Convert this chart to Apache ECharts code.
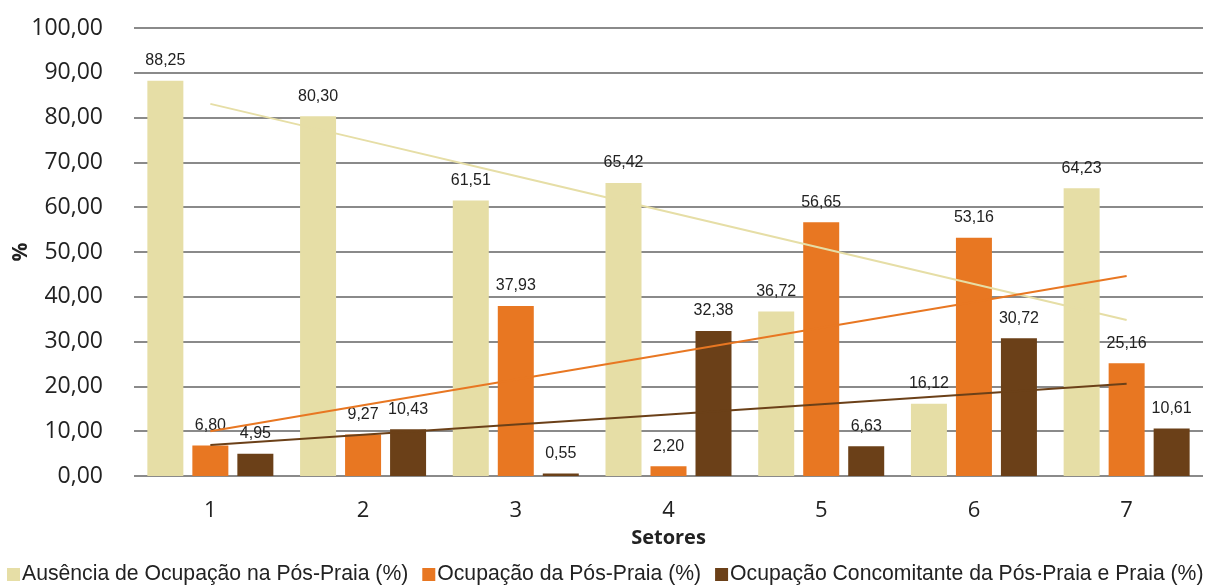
<!DOCTYPE html>
<html>
<head>
<meta charset="utf-8">
<script src="https://cdn.jsdelivr.net/npm/echarts@6/dist/echarts.min.js"></script>
<style>
  html, body { margin: 0; padding: 0; background: #fff; }
  #chart { width: 1217px; height: 586px; }
</style>
</head>
<body>
<div id="chart"></div>
<script>
// dados
const setores = ['1', '2', '3', '4', '5', '6', '7'];
const ausencia = [88.25, 80.30, 61.51, 65.42, 36.72, 16.12, 64.23];
const ocupacao = [6.80, 9.27, 37.93, 2.20, 56.65, 53.16, 25.16];
const concomitante = [4.95, 10.43, 0.55, 32.38, 6.63, 30.72, 10.61];
const nomes = [
  'Ausência de Ocupação na Pós-Praia (%)',
  'Ocupação da Pós-Praia (%)',
  'Ocupação Concomitante da Pós-Praia e Praia (%)'
];
const cores = ['#e6dea6', '#e87722', '#6b4018'];

// linha de tendência linear (mínimos quadrados), como no Excel
function tendencia(vals) {
  const n = vals.length;
  const xs = vals.map((v, i) => i + 1);
  const mx = xs.reduce((a, b) => a + b, 0) / n;
  const my = vals.reduce((a, b) => a + b, 0) / n;
  let num = 0, den = 0;
  for (let i = 0; i < n; i++) {
    num += (xs[i] - mx) * (vals[i] - my);
    den += (xs[i] - mx) * (xs[i] - mx);
  }
  const b = num / den;
  return xs.map(x => my + b * (x - mx));
}

const fmt = v => v.toFixed(2).replace('.', ',');

const chart = echarts.init(document.getElementById('chart'));

function barSerie(nome, dados, cor) {
  return {
    name: nome,
    type: 'bar',
    data: dados,
    barWidth: 36,
    barGap: '25%',
    itemStyle: { color: cor },
    label: {
      show: true,
      position: 'top',
      distance: 12,
      color: '#222',
      fontFamily: 'Liberation Sans',
      fontSize: 16,
      formatter: p => fmt(p.value)
    },
    z: 2
  };
}

function linhaTendencia(dados, cor) {
  return {
    type: 'line',
    data: tendencia(dados),
    showSymbol: false,
    silent: true,
    lineStyle: { color: cor, width: 2 },
    z: 5
  };
}

const option = {
  animation: false,
  grid: { left: 134, right: 14, top: 28, bottom: 110, outerBoundsMode: 'none', containLabel: false },
  // título do eixo y (%), posicionado à mão
  graphic: [{
    type: 'text',
    x: 21,
    y: 252,
    rotation: Math.PI / 2,
    style: {
      text: '%',
      fontFamily: 'Open Sans',
      fontWeight: 'bold',
      fontSize: 21,
      fill: '#222',
      align: 'center',
      verticalAlign: 'middle'
    }
  }],
  legend: {
    data: nomes,
    bottom: 1,
    left: 7,
    width: 1210,
    padding: 0,
    itemWidth: 13,
    itemHeight: 13,
    itemGap: 14,
    icon: 'rect',
    textStyle: { fontFamily: 'Liberation Sans', fontSize: 21.2, color: '#222', padding: [0, 0, 0, -3] }
  },
  xAxis: {
    type: 'category',
    data: setores,
    name: 'Setores',
    nameLocation: 'middle',
    nameGap: 52,
    nameTextStyle: { fontFamily: 'Open Sans', fontWeight: 'bold', fontSize: 20, color: '#222' },
    axisLine: { show: false },
    axisTick: { show: false },
    axisLabel: { fontFamily: 'Open Sans', fontSize: 22, color: '#222', margin: 24 }
  },
  yAxis: {
    type: 'value',
    min: 0,
    max: 100,
    interval: 10,
    axisLine: { show: false },
    axisTick: { show: false },
    axisLabel: { fontFamily: 'Open Sans', fontSize: 23, color: '#222', margin: 31, formatter: v => fmt(v) },
    splitLine: { lineStyle: { color: '#8a8a8a', width: 2 } }
  },
  series: [
    barSerie(nomes[0], ausencia, cores[0]),
    barSerie(nomes[1], ocupacao, cores[1]),
    barSerie(nomes[2], concomitante, cores[2]),
    linhaTendencia(ausencia, cores[0]),
    linhaTendencia(ocupacao, cores[1]),
    linhaTendencia(concomitante, cores[2])
  ]
};

chart.setOption(option);
</script>
</body>
</html>
